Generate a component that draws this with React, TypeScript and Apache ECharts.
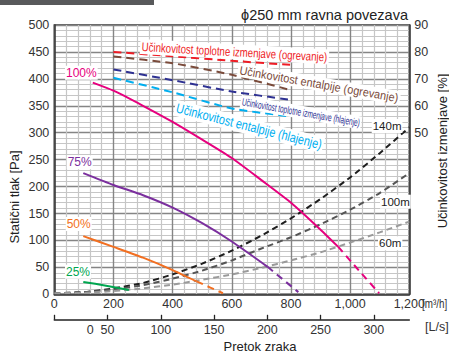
import React, { useEffect, useRef } from "react";
import * as echarts from "echarts";

// ---- data ----
// fan curves: flow [m3/h] and static pressure [Pa]
const flow100 = [130, 200, 300, 400, 500, 600, 700, 800, 900, 960];
const pa100 = [393, 378, 350, 320, 287, 253, 212, 170, 120, 88];
const flow100Dash = [960, 1030, 1098];
const pa100Dash = [88, 44, 2];

const flow75 = [98, 200, 300, 400, 500, 600, 721];
const pa75 = [225, 203, 184, 161, 132, 98, 51];
const flow75Dash = [721, 825];
const pa75Dash = [51, 4];

const flow50 = [98, 200, 300, 400, 481];
const pa50 = [108, 88, 68, 45, 24];
const flow50Dash = [481, 570];
const pa50Dash = [24, 2];

const flow25 = [98, 175, 252];
const pa25 = [23, 16, 8];

// system (duct length) curves
const sysFlow = [0, 100, 200, 300, 400, 500, 600, 700, 800, 900, 1000, 1100, 1200];
const sys140 = [2, 4, 11, 21, 37, 57, 81, 109, 141, 177, 217, 262, 310];
const sys100 = [2, 4, 9, 17, 29, 44, 63, 85, 106, 130, 157, 188, 225];
const sys60 = [2, 3, 6, 11, 18, 27, 37, 49, 63, 78, 96, 115, 135];

// exchange efficiency [%]
const effFlow = [200, 400, 600, 800];
const effHeatOgr = [80, 78.4, 76.7, 75.2];
const effEntOgr = [78.3, 75.8, 71.5, 65.8];
const effHeatHla = [73.5, 69.5, 65.3, 62.2];
const effEntHla = [70.4, 65, 59, 56];

const fanLabels = ["100%", "75%", "50%", "25%"];
const sysLabels = ["140m", "100m", "60m"];
const effLabels = [
  "Učinkovitost toplotne izmenjave (ogrevanje)",
  "Učinkovitost entalpije (ogrevanje)",
  "Učinkovitost toplotne izmenjave (hlajenje)",
  "Učinkovitost entalpije (hlajenje)",
];

const FONT = '"Liberation Sans", Arial, Helvetica, sans-serif';

const pairs = (xs: number[], ys: number[]) => xs.map((x, i) => [x, ys[i]]);

function measure(text: string, size: number) {
  const c = document.createElement("canvas").getContext("2d");
  if (!c) return text.length * size * 0.5;
  c.font = `${size}px "Liberation Sans", Arial, sans-serif`;
  return c.measureText(text).width;
}

export default function App() {
  const ref = useRef<HTMLDivElement>(null);

  useEffect(() => {
    if (!ref.current) return;
    const chart = echarts.init(ref.current, undefined, { renderer: "svg" });

    const line = (
      name: string,
      data: number[][],
      color: string,
      dashed: boolean | number[],
      yAxisIndex = 0,
      width = 2
    ) => ({
      name,
      type: "line",
      data,
      xAxisIndex: 0,
      yAxisIndex,
      symbol: "none",
      smooth: 0.2,
      lineStyle: {
        color,
        width,
        type: dashed === true ? [6, 4] : dashed === false ? "solid" : dashed,
      },
      z: 3,
      silent: true,
    });

    const effSpec = [
      { color: "#ee1c25", cx: 234.5, cy: 51.8, angle: 3.2, width: 186, size: 12.5 },
      { color: "#7a4b3b", cx: 319, cy: 84, angle: 10, width: 161, size: 12 },
      { color: "#2e3192", cx: 301, cy: 112.3, angle: 10.2, width: 120, size: 10.5 },
      { color: "#00aeef", cx: 249, cy: 126.5, angle: 14.3, width: 150, size: 13.5 },
    ];

    const effGraphics = effLabels.map((t, i) => {
      const s = effSpec[i];
      const w = measure(t, s.size);
      return {
        type: "text",
        x: s.cx,
        y: s.cy,
        rotation: (-s.angle * Math.PI) / 180,
        scaleX: s.width / w,
        z: 100,
        style: {
          text: t,
          fill: s.color,
          fontSize: s.size,
          fontFamily: FONT,
          align: "center",
          verticalAlign: "middle",
          textAlign: "center",
          textVerticalAlign: "middle",
          backgroundColor: "#fff",
          padding: [1, 2],
        },
      };
    });

    const fanSpec = [
      { color: "#e6007e", x: 65, y: 72.7 },
      { color: "#7b2f9e", x: 66.7, y: 162.3 },
      { color: "#f26f21", x: 65.7, y: 224 },
      { color: "#00a650", x: 65, y: 271.7 },
    ];
    const fanGraphics = fanLabels.map((t, i) => ({
      type: "text",
      x: fanSpec[i].x,
      y: fanSpec[i].y,
      z: 100,
      style: {
        text: t,
        fill: fanSpec[i].color,
        fontSize: 12,
        fontFamily: FONT,
        align: "left",
        verticalAlign: "middle",
        textAlign: "left",
        textVerticalAlign: "middle",
        backgroundColor: "#fff",
        padding: [1, 1],
      },
    }));

    const sysSpec = [
      { x: 371.7, y: 126 },
      { x: 380, y: 201.7 },
      { x: 378, y: 243.3 },
    ];
    const sysGraphics = sysLabels.map((t, i) => ({
      type: "text",
      x: sysSpec[i].x,
      y: sysSpec[i].y,
      z: 100,
      style: {
        text: t,
        fill: "#222",
        fontSize: 11.5,
        fontFamily: FONT,
        align: "left",
        verticalAlign: "middle",
        textAlign: "left",
        textVerticalAlign: "middle",
        backgroundColor: "#fff",
        padding: [1, 1],
      },
    }));

    const plainText = (
      text: string,
      x: number,
      y: number,
      size: number,
      align: string,
      rotation = 0,
      fill = "#333",
      scaleX = 1
    ) => ({
      type: "text",
      x,
      y,
      rotation,
      scaleX,
      z: 100,
      style: {
        text,
        fill,
        fontSize: size,
        fontFamily: FONT,
        align,
        verticalAlign: "middle",
        textAlign: align,
        textVerticalAlign: "middle",
      },
    });

    chart.setOption({
      animation: false,
      backgroundColor: "#fff",
      grid: {
        left: 54.3,
        right: 39.7,
        top: 25,
        bottom: 62.7,
        show: true,
        borderColor: "#333",
        borderWidth: 1.5,
        backgroundColor: "#fff",
      },
      xAxis: [
        {
          type: "value",
          min: 0,
          max: 1200,
          interval: 200,
          axisLine: { show: true, onZero: false, lineStyle: { color: "#333", width: 1.5 } },
          axisTick: { show: false },
          axisLabel: {
            color: "#333",
            fontSize: 12.5,
            fontFamily: FONT,
            margin: 3,
            formatter: (v: number) => (v >= 1000 ? v.toLocaleString("en-US") : String(v)),
          },
          splitLine: { show: true, lineStyle: { color: "#858585", width: 1.4 } },
          minorTick: { show: false, splitNumber: 5 },
          minorSplitLine: { show: true, lineStyle: { color: "#c6c6c6", width: 1.2 } },
        },
        {
          type: "value",
          position: "bottom",
          offset: 25.5,
          min: 0,
          max: 1200 / 3.6,
          interval: 50,
          axisLine: { show: true, onZero: false, lineStyle: { color: "#222", width: 1.5 } },
          axisTick: { show: true, inside: true, length: 5, lineStyle: { color: "#222", width: 1.3 } },
          axisLabel: {
            color: "#333",
            fontSize: 12.5,
            fontFamily: FONT,
            margin: 3.5,
            showMaxLabel: false,
            formatter: (v: number) => (v === 0 ? "" : String(v)),
          },
          splitLine: { show: false },
        },
      ],
      yAxis: [
        {
          type: "value",
          min: 0,
          max: 500,
          interval: 50,
          axisLine: { show: true, onZero: false, lineStyle: { color: "#333", width: 1.5 } },
          axisTick: { show: false },
          axisLabel: { color: "#333", fontSize: 12.5, fontFamily: FONT, margin: 5 },
          splitLine: { show: true, lineStyle: { color: "#858585", width: 1.4 } },
          minorTick: { show: false, splitNumber: 5 },
          minorSplitLine: { show: true, lineStyle: { color: "#c6c6c6", width: 1.2 } },
        },
        {
          type: "value",
          position: "right",
          min: -10,
          max: 90,
          interval: 10,
          axisLine: { show: true, onZero: false, lineStyle: { color: "#333", width: 1.5 } },
          axisTick: { show: false },
          axisLabel: {
            color: "#333",
            fontSize: 12.5,
            fontFamily: FONT,
            margin: 5,
            formatter: (v: number) => (v >= 50 ? String(v) : ""),
          },
          splitLine: { show: false },
        },
      ],
      series: [
        line("140m", pairs(sysFlow, sys140), "#1e1e1e", [6, 4]),
        line("100m", pairs(sysFlow, sys100), "#555555", [6, 4]),
        line("60m", pairs(sysFlow, sys60), "#9a9a9a", [6, 4]),
        line("100%", pairs(flow100, pa100), "#e6007e", false),
        line("100% d", pairs(flow100Dash, pa100Dash), "#e6007e", [7, 5]),
        line("75%", pairs(flow75, pa75), "#7b2f9e", false),
        line("75% d", pairs(flow75Dash, pa75Dash), "#7b2f9e", [7, 5]),
        line("50%", pairs(flow50, pa50), "#f26f21", false),
        line("50% d", pairs(flow50Dash, pa50Dash), "#f26f21", [7, 5]),
        line("25%", pairs(flow25, pa25), "#00a650", false),
        line("eff heat ogr", pairs(effFlow, effHeatOgr), "#ee1c25", [8, 5], 1),
        line("eff ent ogr", pairs(effFlow, effEntOgr), "#7a4b3b", [8, 5], 1),
        line("eff heat hla", pairs(effFlow, effHeatHla), "#2e3192", [8, 5], 1),
        line("eff ent hla", pairs(effFlow, effEntHla), "#00aeef", [8, 5], 1),
      ],
      graphic: [
        { type: "rect", shape: { x: 0, y: 0, width: 154, height: 5 }, style: { fill: "#58595b" }, z: 100 },
        plainText("ϕ250 mm ravna povezava", 408, 15, 14.5, "right", 0, "#222"),
        plainText("Statični tlak [Pa]", 14.5, 197, 13, "center", Math.PI / 2, "#222"),
        plainText("Učinkovitost izmenjave [%]", 442, 151, 13, "center", Math.PI / 2, "#222"),
        plainText("Pretok zraka", 260, 346, 13, "center", 0, "#222"),
        plainText("[m³/h]", 422, 303.5, 12, "left", 0, "#333", 0.82),
        plainText("[L/s]", 425, 327, 12.5, "left"),
        plainText("0", 90.3, 329.5, 12.5, "center"),
        ...effGraphics,
        ...fanGraphics,
        ...sysGraphics,
      ],
    });

    return () => chart.dispose();
  }, []);

  return (
    <div
      ref={ref}
      style={{ position: "fixed", left: 0, top: 0, width: 449, height: 357, background: "#fff" }}
    />
  );
}
